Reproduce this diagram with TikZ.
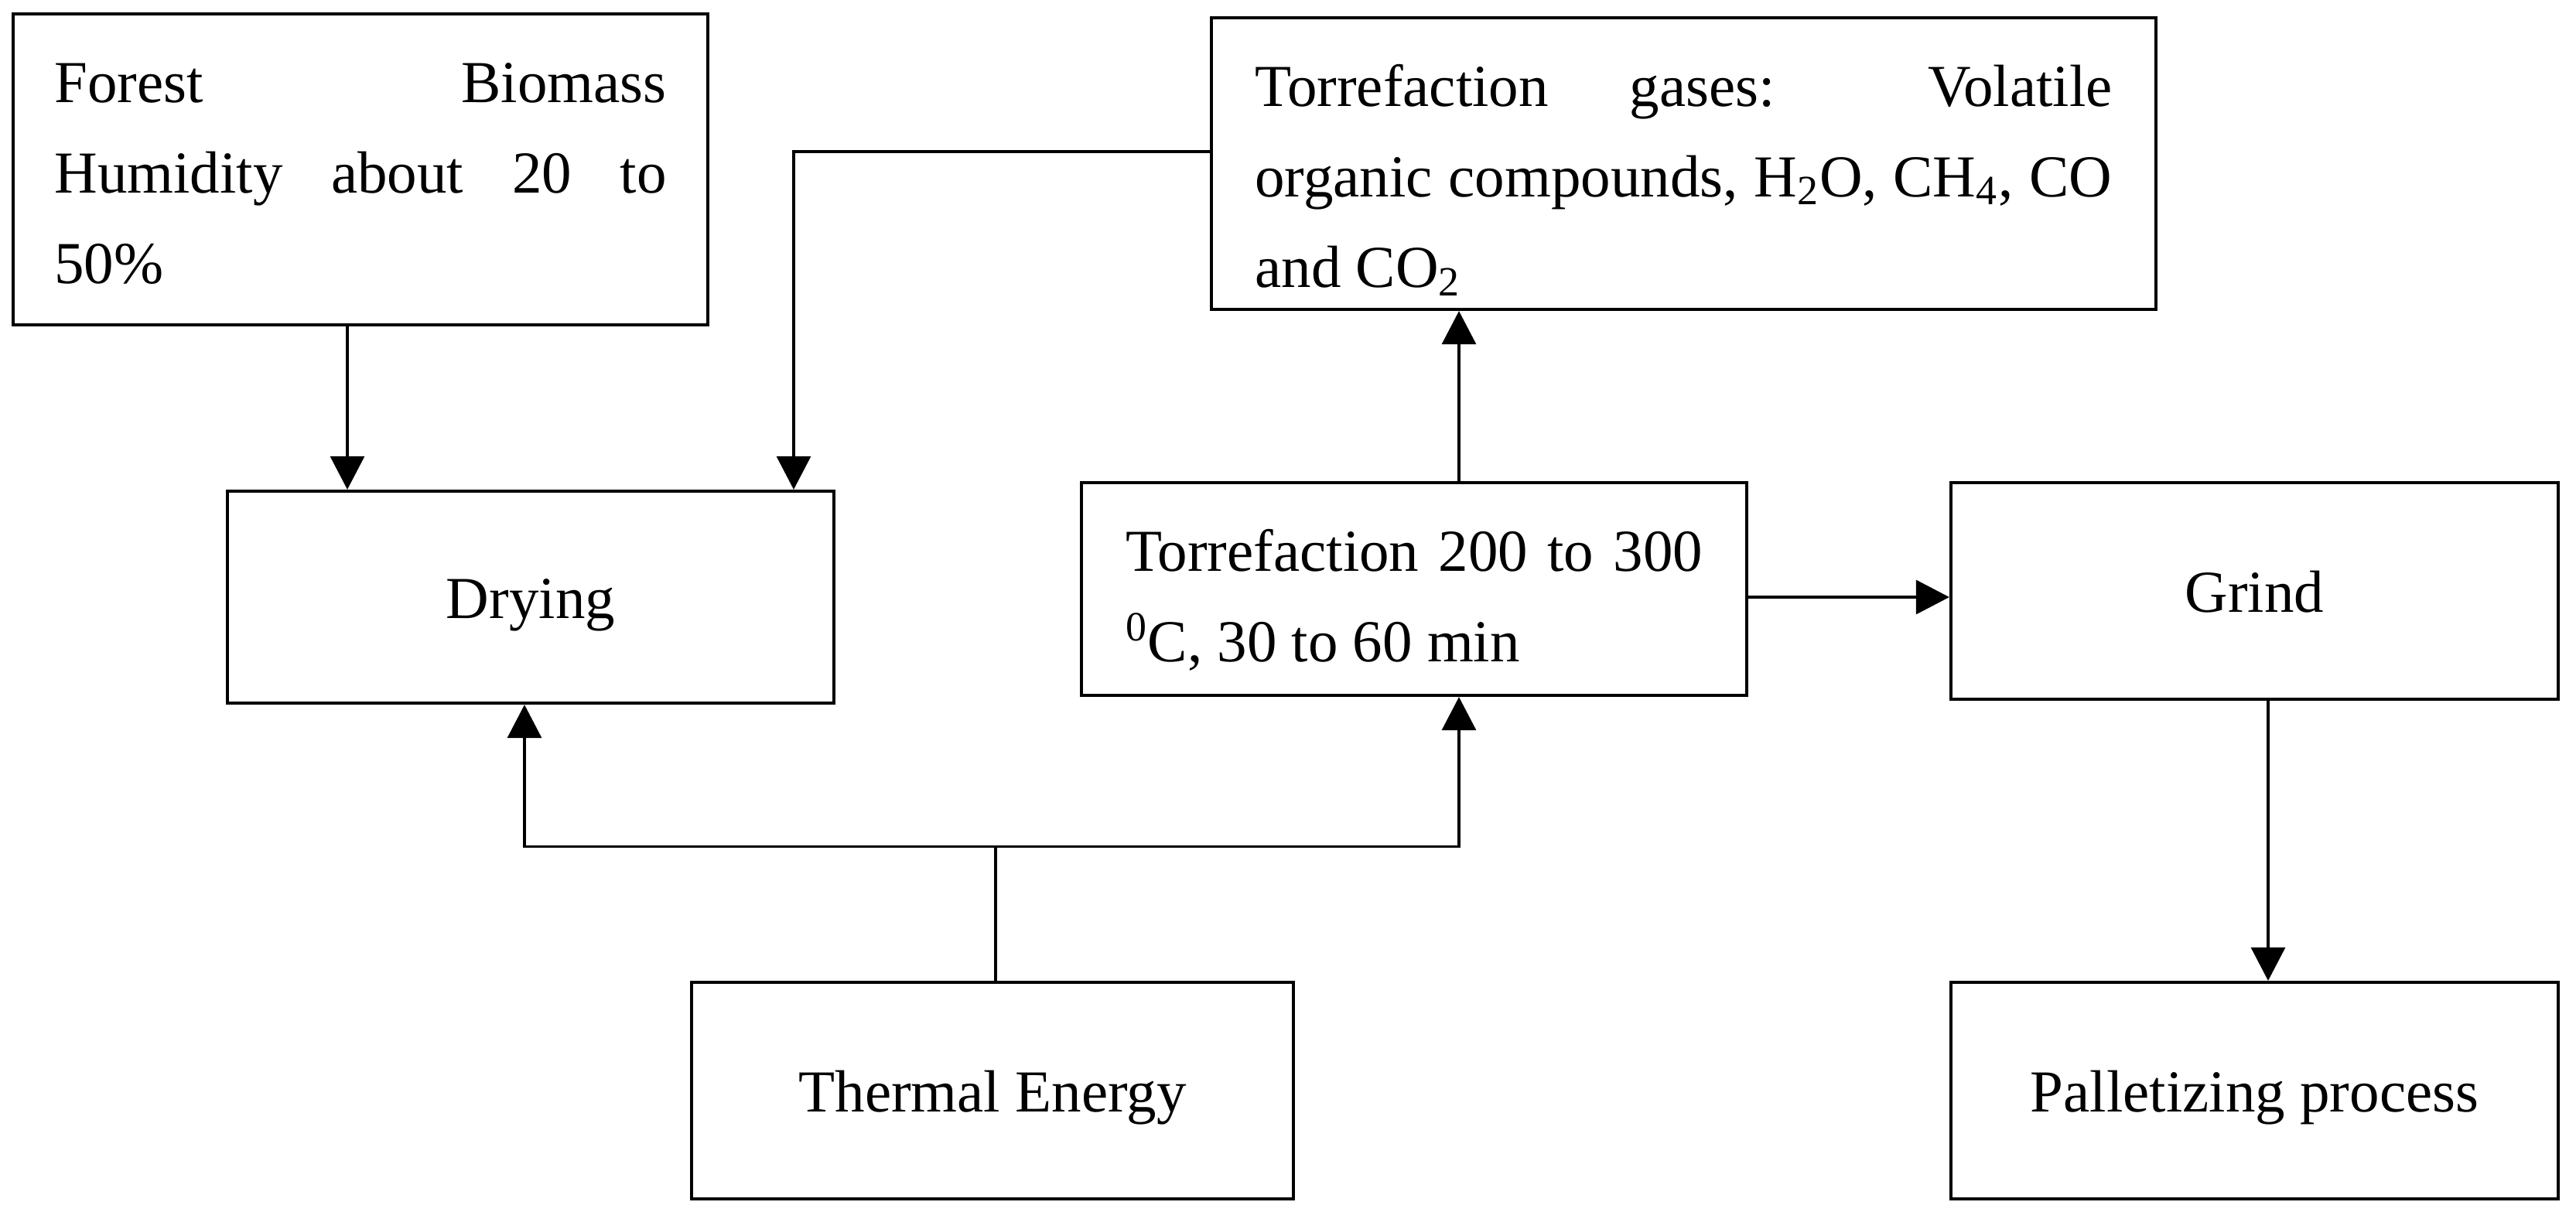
\documentclass[tikz,border=0pt]{standalone}
\usepackage{fontspec}
\setmainfont{Liberation Serif}
\usetikzlibrary{arrows.meta,positioning}
\tikzset{
  stage/.style={draw,line width=1.2pt,minimum height=2.8cm,inner sep=0pt,font=\fontsize{21.9}{33.3}\selectfont,text height=0.74cm,text depth=0.2cm},
  note/.style={draw,line width=1.2pt,inner sep=0pt,align=justify,text height=0.5cm,font=\fontsize{21.9}{33.3}\selectfont},
  flow/.style={line width=0.9pt,-{Triangle[length=0.43cm,width=0.44cm]}},
}

\begin{document}
\begin{tikzpicture}
\useasboundingbox (0,0) rectangle (33.3,-15.75);
% boxes
\node[note,minimum width=8.98cm,minimum height=4.02cm,text width=7.91cm,text depth=2.24cm] (forest) at (4.66,-2.19) {Forest Biomass\linebreak Humidity about 20 to\linebreak 50\%};
\node[note,minimum width=12.21cm,minimum height=3.77cm,text width=11.08cm,text depth=1.99cm] (gases) at (21.765,-2.115) {Torrefaction gases: Volatile\linebreak organic compounds, H\textsubscript{2}O, CH\textsubscript{4}, CO\linebreak and CO\textsubscript{2}};
\node[stage,minimum width=7.84cm,minimum height=2.74cm] (drying) at (6.86,-7.72) {Drying};
\node[note,minimum width=8.6cm,minimum height=2.75cm,text width=7.46cm,text depth=0.97cm] (torr) at (18.28,-7.615) {Torrefaction 200 to 300\linebreak \textsuperscript{0}C, 30 to 60 min};
\node[stage,minimum width=7.85cm] (grind) at (29.145,-7.64) {Grind};
\node[stage,minimum width=7.78cm] (thermal) at (12.83,-14.10) {Thermal Energy};
\node[stage,minimum width=7.85cm] (pall) at (29.145,-14.10) {Palletizing process};
% connectors
\coordinate (f1) at ([xshift=-0.17cm]forest.south);
\coordinate (d1) at ([xshift=3.4cm]drying.north);
\coordinate (t1) at ([xshift=0.58cm]torr.north);
\coordinate (t2) at ([xshift=0.58cm]torr.south);
\coordinate (d2) at ([xshift=-0.08cm]drying.south);
\coordinate (g1) at ([xshift=0.175cm]grind.south);
\coordinate (r1) at ([yshift=-0.105cm]torr.east);
\coordinate (e1) at ([xshift=0.04cm]thermal.north);
\coordinate (split) at ([yshift=1.73cm]e1);
\draw[flow] (f1) -- (f1 |- drying.north);
\draw[flow] ([yshift=0.155cm]gases.west) -| (d1);
\draw[flow] (t1) -- (t1 |- gases.south);
\draw[flow] (r1) -- (r1 -| grind.west);
\draw[flow] (g1) -- (g1 |- pall.north);
\draw[line width=0.9pt] (e1) -- (split);
\draw[flow] (split) -| (d2);
\draw[flow] (split) -| (t2);
\end{tikzpicture}
\end{document}
